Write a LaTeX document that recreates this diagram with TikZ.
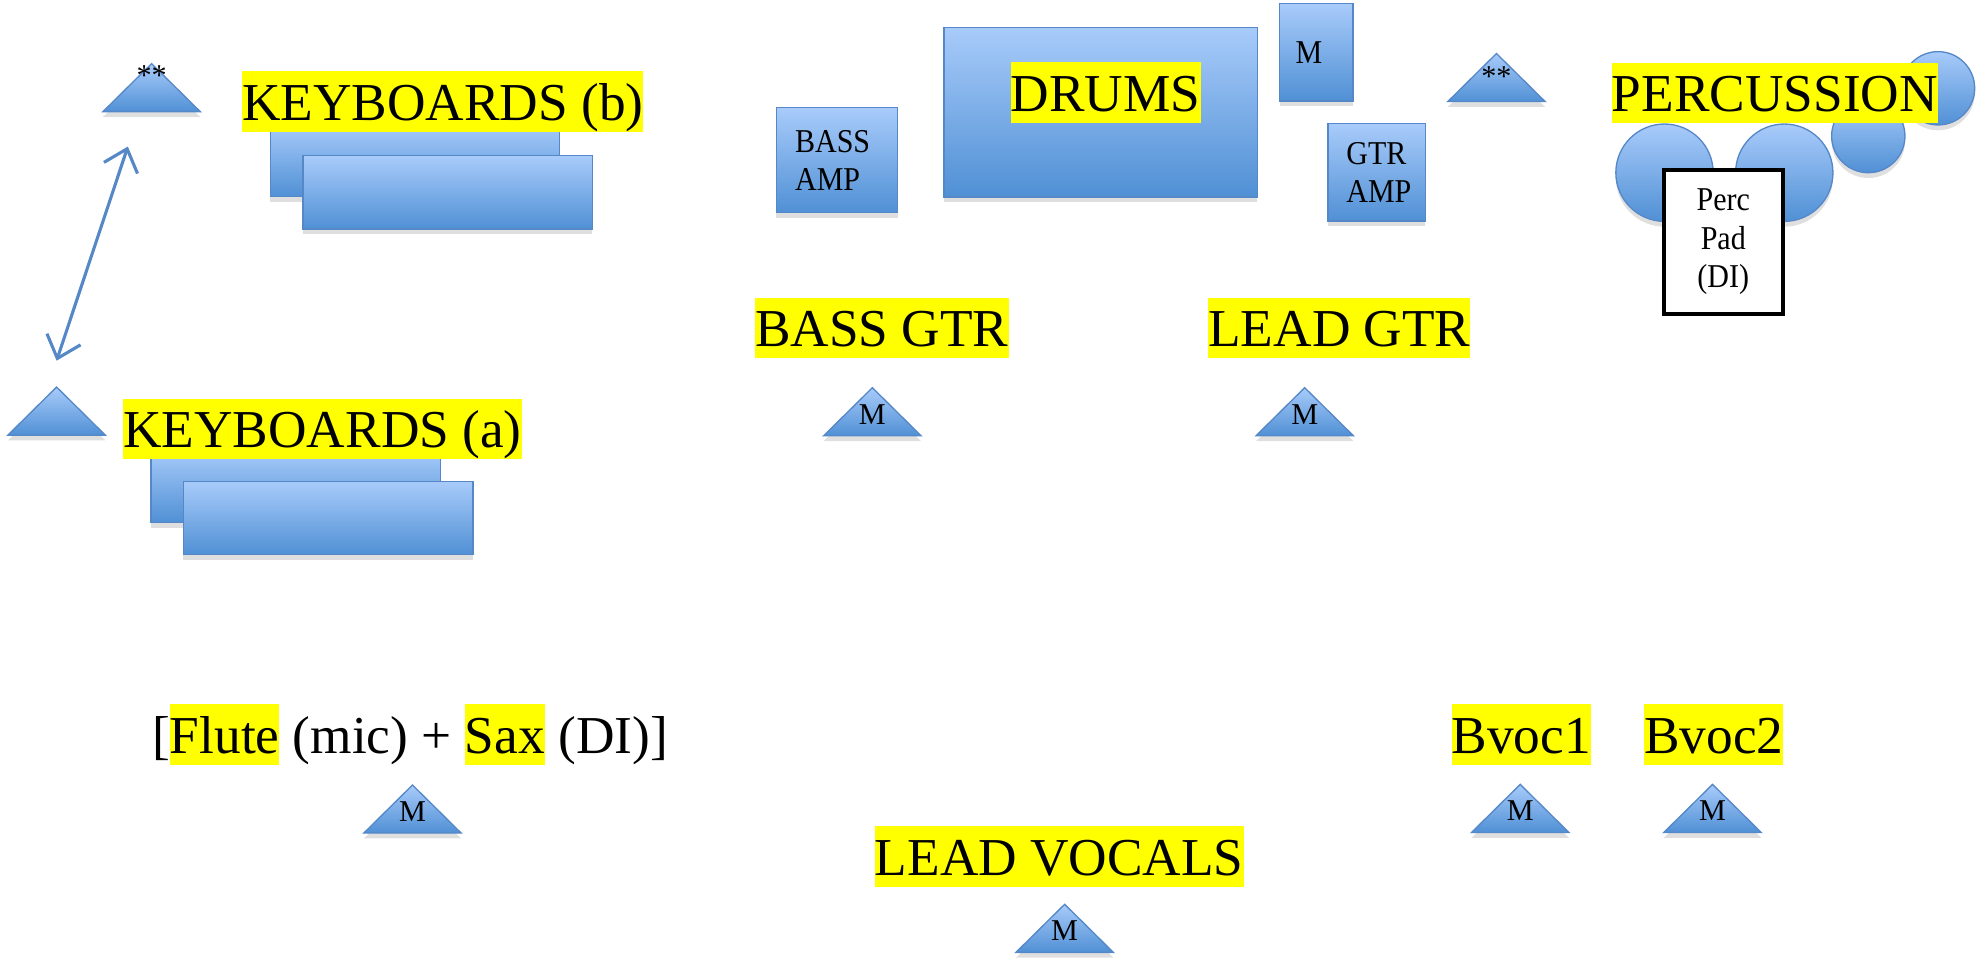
\documentclass[tikz,border=0pt]{standalone}
\usepackage{fontspec}
\setmainfont{Liberation Serif}
\newfontfamily\boxface[FakeStretch=0.9]{Liberation Serif}
\usetikzlibrary{arrows.meta,calc,positioning,shapes.geometric,shadows}
\definecolor{kitTop}{RGB}{168,203,250}
\definecolor{kitBot}{RGB}{80,144,213}
\definecolor{kitLine}{RGB}{86,136,200}
\definecolor{hiYellow}{RGB}{255,255,0}
\newcommand{\bigfont}{\fontsize{12}{14}\selectfont}
\newcommand{\smallfont}{\boxface\fontsize{7.5}{8.6}\selectfont}
\newcommand{\micfont}{\fontsize{6.8}{8}\selectfont}
\newcommand{\hlword}[1]{{\setlength{\fboxsep}{0pt}\colorbox{hiYellow}{\rule[-0.09cm]{0pt}{0.48cm}#1}}}
\tikzset{
  kit/.style={draw=kitLine,line width=0.3pt,top color=kitTop,bottom color=kitBot,drop shadow={opacity=0.25,shadow xshift=0pt,shadow yshift=-1.2pt},font=\smallfont,inner sep=0},
  rect/.style={kit,shape=rectangle},
  keys/.style={rect,minimum width=2.29cm,minimum height=0.58cm},
  drum/.style={kit,shape=circle},
  mic/.style={kit,isosceles triangle,isosceles triangle stretches,shape border rotate=90,minimum width=0.77cm,minimum height=0.38cm,anchor=apex},
  micname/.style={font=\micfont,inner sep=0},
  hlabel/.style={fill=hiYellow,font=\bigfont,inner sep=0,text height=0.39cm,text depth=0.09cm},
  perpad/.style={draw,line width=0.9pt,fill=white,font=\smallfont,align=center,minimum width=0.94cm,minimum height=1.14cm,inner sep=0},
  kbswap/.style={draw=kitLine,line width=0.7pt,{Straight Barb[length=1.6mm,width=2.8mm]}-{Straight Barb[length=1.6mm,width=2.8mm]}},
}
\begin{document}
\begin{tikzpicture}[x=0.01cm,y=-0.01cm]
  \useasboundingbox (0,0) rectangle (1568,761);
  % keyboards
  \node (kbbback) [keys] at (328.5,126.7) {};
  \node (kbbfront) [keys] at ($(kbbback)+(25.8,25.6)$) {};
  \node (kbblabel) [hlabel] at (350.5,80.5) {KEYBOARDS (b)};
  \node (kbback) [keys] at (234.2,384.5) {};
  \node (kbfront) [keys] at ($(kbback)+(25.5,25.5)$) {};
  \node (kbalabel) [hlabel] at (255.3,339.5) {KEYBOARDS (a)};
  \node (tkb) [mic] at (120,49) {};
  \node (tkbtxt) [micname] at ($(tkb.apex)+(0,10.5)$) {**};
  \node (tka) [mic] at (44.8,305) {};
  \coordinate (kbendb) at ($(tkb.apex)+(-18.8,67)$);
  \coordinate (kbenda) at ($(tka.apex)+(0,-19.5)$);
  \path [kbswap] (kbenda) -- (kbendb);
  % back line
  \node (bassamp) [rect,minimum width=0.96cm,minimum height=0.83cm,align=left,text width=0.66cm] at (662.4,126.8) {BASS\\AMP};
  \node (drums) [rect,minimum width=2.48cm,minimum height=1.34cm] at (871.2,88.8) {};
  \node (drumslabel) [hlabel] at (875.2,73.2) {DRUMS};
  \node (drumsmic) [rect,minimum width=0.58cm,minimum height=0.77cm,align=left,text width=0.33cm] at (1042,41.5) {M};
  \node (tdr) [mic] at (1184.5,41) {};
  \node (tdrtxt) [micname] at ($(tdr.apex)+(0,20)$) {**};
  \node (gtramp) [rect,minimum width=0.77cm,minimum height=0.77cm,align=left,text width=0.48cm] at (1089.7,136.5) {GTR\\AMP};
  % percussion
  \node (percd) [drum,minimum size=0.58cm] at (1534,69.9) {};
  \node (percc) [drum,minimum size=0.58cm] at (1478.8,107.7) {};
  \node (perca) [drum,minimum size=0.77cm] at (1317.5,136.7) {};
  \node (percb) [drum,minimum size=0.77cm] at (1412.3,136.7) {};
  \node (perclabel) [hlabel] at (1404.9,73.5) {PERCUSSION};
  \node (percpad) [perpad] at (1364,191.3) {Perc\\Pad\\(DI)};
  % guitars
  \node (basslabel) [hlabel] at (698,259.6) {BASS GTR};
  \node (leadlabel) [hlabel] at (1060.2,259.6) {LEAD GTR};
  \node (mbass) [mic] at (690.5,305.5) {};
  \node (mbasstxt) [micname] at ($(mbass.apex)+(0,22.5)$) {M};
  \node (mlead) [mic] at (1032.7,305.5) {};
  \node (mleadtxt) [micname] at ($(mlead.apex)+(0,22.5)$) {M};
  % front line
  \node (windlabel) [font=\bigfont,inner sep=0] at (324.5,581.2) {[\hlword{Flute} (mic) + \hlword{Sax} (DI)]};
  \node (mwind) [mic] at (326.5,620) {};
  \node (mwindtxt) [micname] at ($(mwind.apex)+(0,22.5)$) {M};
  \node (bvoclabela) [hlabel] at (1204,581.2) {Bvoc1};
  \node (bvoclabelb) [hlabel] at (1356.5,581.2) {Bvoc2};
  \node (mbva) [mic] at (1203.3,619.5) {};
  \node (mbvatxt) [micname] at ($(mbva.apex)+(0,22.5)$) {M};
  \node (mbvb) [mic] at (1355.5,619.5) {};
  \node (mbvbtxt) [micname] at ($(mbvb.apex)+(0,22.5)$) {M};
  \node (vocallabel) [hlabel] at (838.4,677.8) {LEAD VOCALS};
  \node (mvoc) [mic] at (842.7,714.4) {};
  \node (mvoctxt) [micname] at ($(mvoc.apex)+(0,22.5)$) {M};
\end{tikzpicture}
\end{document}
